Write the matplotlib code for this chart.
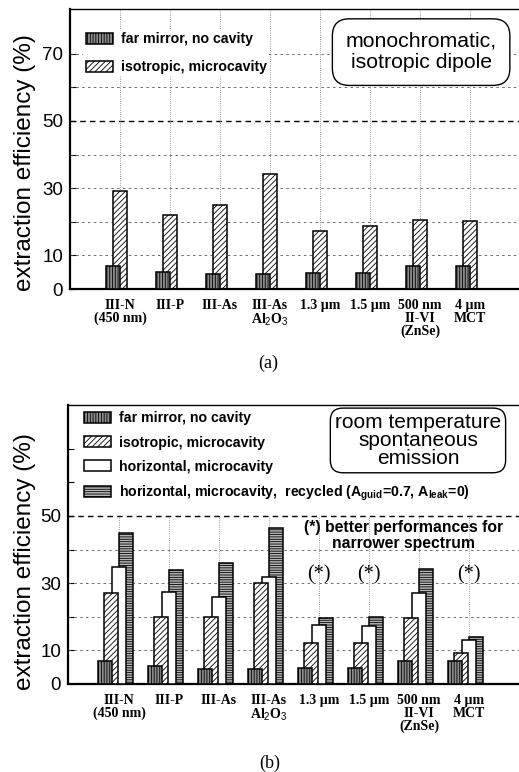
import numpy as np
import matplotlib.pyplot as plt
from matplotlib.patches import Patch

plt.rcParams['font.family'] = ['Liberation Sans', 'DejaVu Sans']
plt.rcParams['mathtext.fontset'] = 'custom'
plt.rcParams['mathtext.bf'] = 'Liberation Sans:bold'
plt.rcParams['mathtext.it'] = 'Liberation Serif:bold'
plt.rcParams['mathtext.rm'] = 'Liberation Sans'
plt.rcParams['hatch.linewidth'] = 0.6

# data
materials = ["III-N\n(450 nm)", "III-P", "III-As", "III-As\nAl$_{\\mathit{2}}$O$_{\\mathit{3}}$",
             "1.3 \u00b5m", "1.5 \u00b5m", "500 nm\nII-VI\n(ZnSe)", "4 \u00b5m\nMCT"]

a_far = [6.8, 5.1, 4.5, 4.5, 4.7, 4.7, 6.8, 6.8]
a_iso = [29.1, 22.1, 25.1, 34.2, 17.2, 18.7, 20.5, 20.1]

b_far = [6.8, 5.4, 4.5, 4.5, 4.7, 4.7, 6.8, 6.8]
b_iso = [27.0, 20.0, 20.0, 30.0, 12.1, 12.2, 19.6, 9.1]
b_hor = [34.9, 27.5, 26.0, 31.9, 17.6, 17.2, 27.0, 13.1]
b_rec = [44.8, 33.9, 36.1, 46.4, 19.5, 20.0, 34.1, 14.1]

star_groups = [4, 5, 7]
star_level = 32.4

a_ticks = [0, 10, 20, 30, 40, 50, 60, 70]
a_ticklabels = ["0", "10", "", "30", "", "50", "", "70"]
b_ticks = [0, 10, 20, 30, 40, 50, 60, 70]
b_ticklabels = ["0", "10", "", "30", "", "50", "", ""]

lab_far = "far mirror, no cavity"
lab_iso = "isotropic, microcavity"
lab_hor = "horizontal, microcavity"
lab_rec = "horizontal, microcavity,  recycled (A$_{\\mathbf{guid}}$=0.7, A$_{\\mathbf{leak}}$=0)"

sty_far = dict(facecolor='#8a8a8a', hatch='||||||', edgecolor='black', linewidth=1.1)
sty_iso = dict(facecolor='white', hatch='//////', edgecolor='black', linewidth=1.1)
sty_hor = dict(facecolor='white', edgecolor='black', linewidth=1.1)
sty_rec = dict(facecolor='#b5b5b5', hatch='-------', edgecolor='black', linewidth=1.1)

x = np.arange(len(materials))

fig = plt.figure(figsize=(5.19, 7.72), dpi=100)
W, H = 519.0, 772.0

legend_kw = dict(loc='upper left', frameon=True, facecolor='white', edgecolor='none',
                 framealpha=1, borderpad=0.15, handlelength=1.95, handleheight=0.8,
                 handletextpad=0.55, borderaxespad=0,
                 prop=dict(family='Liberation Sans', weight='bold', size=10.2))


def style_axes(ax, ticks, ticklabels, top_grid):
    ax.set_xticks(x)
    ax.set_xticklabels(materials, fontfamily='Liberation Serif', fontweight='bold',
                       fontsize=10, linespacing=1.0)
    ax.tick_params(axis='x', length=0, pad=7)
    ax.set_yticks(ticks)
    ax.set_yticklabels(ticklabels, fontsize=13.5)
    ax.tick_params(axis='y', direction='in', length=4, width=0.8, pad=5)
    ax.spines['right'].set_visible(False)
    ax.spines['left'].set_linewidth(1.6)
    ax.spines['bottom'].set_linewidth(1.6)
    ax.spines['top'].set_linewidth(1.0)
    ax.set_axisbelow(True)
    ymax = ax.get_ylim()[1]
    for t in ticks[1:]:
        if t > top_grid:
            continue
        if t == 50:
            ax.axhline(t, color='black', lw=1.0, dashes=(4, 3), zorder=1)
        else:
            ax.axhline(t, color='#555555', lw=0.6, dashes=(3, 4), zorder=1)
    for xi in x:
        ax.axvline(xi, ymax=min(1.0, top_grid / ymax), color='#777777', lw=0.6,
                   linestyle=':', zorder=1)
    ax.set_ylabel("extraction efficiency (%)", fontsize=17.5)


# ---------------- panel (a) ----------------
ax1 = fig.add_axes([70 / W, 1 - 289 / H, 449 / W, 280 / H])
ax1.set_ylim(0, 83.3)
ax1.set_xlim(-1.0, 7.98)
style_axes(ax1, a_ticks, a_ticklabels, 83)
ax1.yaxis.set_label_coords(-0.075, 0.45)

ax1.bar(x, a_iso, width=0.27, zorder=2, **sty_iso)
ax1.bar(x - 0.14, a_far, width=0.27, zorder=3, **sty_far)

h1 = [Patch(label=lab_far, **sty_far), Patch(label=lab_iso, **sty_iso)]
ax1.legend(handles=h1, bbox_to_anchor=(0.03, 0.925), labelspacing=1.0, **legend_kw)

ax1.text(0.782, 0.846, "monochromatic,\nisotropic dipole", transform=ax1.transAxes,
         ha='center', va='center', fontsize=15.3, linespacing=1.15, zorder=6,
         bbox=dict(boxstyle='round,pad=0.62,rounding_size=0.8', facecolor='white',
                   edgecolor='black', linewidth=1.0))

fig.text(268 / W, 1 - 363 / H, "(a)", ha='center', va='center',
         fontfamily='Liberation Serif', fontsize=13)

# ---------------- panel (b) ----------------
ax2 = fig.add_axes([68 / W, 1 - 684 / H, 451 / W, 279 / H])
ax2.set_ylim(0, 83.0)
ax2.set_xlim(-1.02, 8.0)
style_axes(ax2, b_ticks, b_ticklabels, 50)
ax2.yaxis.set_label_coords(-0.07, 0.44)

ax2.bar(x + 0.14, b_rec, width=0.28, zorder=2, **sty_rec)
ax2.bar(x, b_hor, width=0.28, zorder=3, **sty_hor)
ax2.bar(x - 0.16, b_iso, width=0.28, zorder=4, **sty_iso)
ax2.bar(x - 0.29, b_far, width=0.28, zorder=5, **sty_far)

h2 = [Patch(label=lab_far, **sty_far), Patch(label=lab_iso, **sty_iso),
      Patch(label=lab_hor, **sty_hor), Patch(label=lab_rec, **sty_rec)]
ax2.legend(handles=h2, bbox_to_anchor=(0.03, 0.985), labelspacing=0.72, **legend_kw)

ax2.text(0.776, 0.873, "room temperature\nspontaneous\nemission", transform=ax2.transAxes,
         ha='center', va='center', fontsize=15, linespacing=0.95, zorder=6,
         bbox=dict(boxstyle='round,pad=0.22,rounding_size=0.6', facecolor='white',
                   edgecolor='black', linewidth=1.0))

ax2.text(5.7, 44.2, "(*) better performances for\nnarrower spectrum", ha='center', va='center',
         fontsize=11.3, fontweight='bold', linespacing=1.08, zorder=6)

for g in star_groups:
    ax2.text(x[g], star_level, "(*)", ha='center', va='center',
             fontfamily='Liberation Serif', fontsize=14.5, zorder=6)

fig.text(270 / W, 1 - 763 / H, "(b)", ha='center', va='center',
         fontfamily='Liberation Serif', fontsize=13)

fig.savefig("out.png", dpi=100)
